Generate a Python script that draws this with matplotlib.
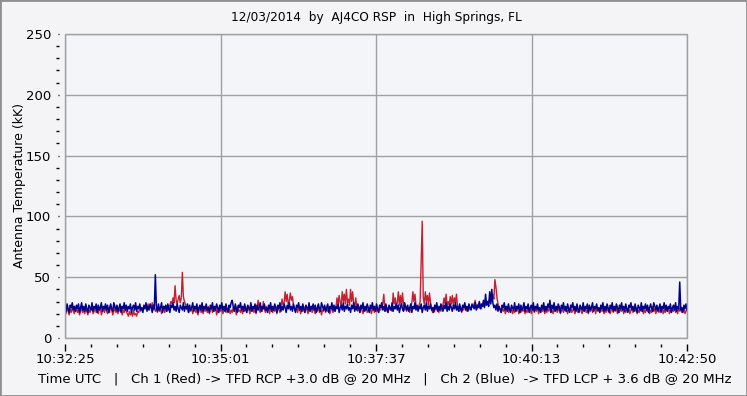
import numpy as np
import matplotlib
matplotlib.use("Agg")
import matplotlib.pyplot as plt
from matplotlib.patches import Rectangle
from matplotlib.ticker import MultipleLocator

# -------------------------------------------------------------------------
# DATA (one sample about every second)
# -------------------------------------------------------------------------
title = "12/03/2014  by  AJ4CO RSP  in  High Springs, FL"
y_label = "Antenna Temperature (kK)"
footer = ("Time UTC   |   Ch 1 (Red) -> TFD RCP +3.0 dB @ 20 MHz   |   "
          "Ch 2 (Blue)  -> TFD LCP + 3.6 dB @ 20 MHz")
x_tick_labels = ["10:32:25", "10:35:01", "10:37:37", "10:40:13", "10:42:50"]
duration_s = 625

ch1_red = [
    23, 20, 25, 22, 19, 24, 21, 26, 22, 20, 25, 23, 21, 24, 19, 22, 26, 21, 23, 20,
    25, 22, 19, 24, 21, 23, 26, 20, 22, 25, 21, 24, 20, 23, 26, 19, 22, 24, 21, 25,
    22, 20, 24, 21, 26, 23, 19, 22, 25, 21, 23, 20, 24, 22, 26, 19, 23, 21, 25, 22,
    20, 18, 22, 19, 21, 18, 23, 19, 20, 18, 22, 21, 24, 22, 25, 23, 26, 24, 27, 25,
    28, 24, 27, 25, 29, 23, 26, 22, 24, 21, 25, 22, 24, 20, 23, 26, 21, 24, 22, 25,
    23, 27, 30, 28, 33, 29, 43, 31, 28, 32, 35, 29, 33, 54, 34, 30, 28, 25, 23, 21,
    24, 22, 26, 20, 23, 25, 21, 24, 19, 22, 26, 21, 23, 20, 25, 22, 24, 21, 26, 20,
    23, 25, 21, 24, 22, 26, 19, 23, 21, 25, 22, 24, 20, 23, 26, 21, 24, 22, 25, 20,
    23, 21, 25, 22, 24, 19, 26, 22, 23, 21, 25, 20, 24, 22, 26, 21, 23, 25, 20, 24,
    22, 25, 21, 24, 20, 26, 31, 23, 21, 25, 22, 30, 24, 21, 26, 22, 24, 20, 25, 23,
    21, 24, 22, 26, 20, 25, 23, 21, 26, 32, 27, 29, 38, 30, 36, 28, 30, 37, 31, 34,
    27, 24, 22, 26, 21, 25, 23, 20, 24, 22, 26, 21, 25, 23, 20, 24, 22, 26, 21, 25,
    23, 20, 24, 22, 26, 21, 25, 19, 23, 22, 26, 21, 24, 22, 25, 20, 23, 26, 21, 24,
    22, 26, 33, 28, 35, 29, 27, 38, 30, 36, 28, 40, 29, 32, 27, 40, 30, 38, 28, 26,
    33, 25, 22, 26, 21, 24, 23, 20, 25, 22, 26, 21, 24, 22, 25, 20, 23, 26, 21, 24,
    22, 25, 21, 24, 23, 26, 28, 36, 24, 22, 25, 21, 26, 23, 24, 22, 37, 28, 33, 26,
    29, 38, 27, 35, 26, 37, 28, 23, 26, 22, 25, 24, 21, 26, 29, 38, 30, 36, 27, 25,
    24, 27, 30, 62, 96, 33, 28, 38, 30, 35, 27, 37, 29, 24, 21, 25, 22, 26, 23, 24,
    21, 25, 22, 26, 27, 33, 28, 36, 26, 30, 27, 34, 28, 35, 27, 33, 29, 36, 26, 24,
    22, 26, 21, 25, 23, 27, 24, 22, 26, 23, 25, 24, 27, 25, 28, 31, 26, 24, 28, 25,
    27, 24, 28, 26, 29, 27, 30, 28, 31, 29, 33, 30, 36, 32, 48, 42, 33, 28, 25, 23,
    21, 24, 22, 25, 20, 23, 26, 21, 24, 22, 25, 20, 23, 21, 24, 22, 26, 20, 23, 21,
    24, 22, 25, 20, 23, 21, 26, 22, 24, 20, 23, 25, 21, 24, 22, 26, 20, 23, 21, 24,
    22, 25, 20, 23, 21, 24, 22, 26, 21, 23, 20, 25, 22, 24, 21, 23, 26, 20, 22, 24,
    21, 25, 22, 23, 20, 24, 22, 26, 21, 23, 25, 20, 22, 24, 21, 23, 26, 22, 20, 24,
    22, 25, 21, 23, 20, 24, 22, 26, 21, 23, 25, 20, 24, 22, 23, 21, 25, 22, 24, 20,
    23, 21, 25, 22, 24, 20, 23, 26, 21, 24, 22, 25, 20, 23, 21, 24, 22, 26, 20, 23,
    21, 24, 22, 25, 20, 23, 26, 21, 24, 22, 25, 20, 23, 21, 24, 22, 26, 20, 23, 21,
    24, 22, 25, 20, 23, 21, 26, 22, 24, 20, 23, 25, 21, 24, 22, 26, 20, 23, 21, 24,
    22, 25, 20, 23, 21, 24, 22, 26, 21, 23, 20, 25, 22, 24, 21, 23, 26, 20, 22, 23,
]

ch2_blue = [
    26, 22, 28, 24, 21, 27, 25, 29, 23, 26, 22, 27, 24, 28, 21, 25, 29, 23, 26, 22,
    28, 24, 21, 27, 25, 23, 29, 22, 26, 24, 28, 21, 27, 23, 25, 29, 22, 26, 24, 28,
    23, 27, 21, 25, 28, 24, 22, 29, 26, 23, 27, 22, 25, 28, 21, 26, 24, 29, 23, 27,
    22, 26, 24, 28, 21, 25, 27, 23, 29, 22, 26, 24, 28, 23, 25, 21, 27, 24, 29, 22,
    26, 23, 28, 25, 21, 27, 24, 52, 26, 22, 28, 23, 25, 29, 21, 26, 24, 27, 22, 28,
    24, 21, 27, 25, 29, 23, 26, 22, 28, 24, 21, 27, 25, 23, 29, 22, 26, 24, 28, 21,
    27, 23, 25, 29, 22, 26, 24, 28, 21, 25, 27, 23, 29, 22, 26, 24, 28, 23, 25, 21,
    27, 24, 29, 22, 26, 23, 28, 25, 21, 27, 24, 29, 23, 26, 22, 28, 24, 21, 27, 25,
    29, 31, 26, 22, 28, 24, 21, 27, 25, 29, 23, 26, 22, 28, 24, 21, 27, 25, 23, 29,
    22, 26, 24, 28, 21, 27, 23, 25, 29, 22, 26, 24, 28, 23, 25, 21, 27, 24, 29, 22,
    26, 23, 28, 25, 21, 27, 24, 29, 22, 26, 23, 28, 25, 21, 27, 24, 29, 23, 26, 22,
    28, 24, 21, 27, 25, 29, 23, 26, 22, 28, 24, 21, 27, 25, 23, 29, 22, 26, 24, 28,
    23, 27, 21, 25, 28, 24, 22, 29, 26, 23, 27, 22, 25, 28, 21, 26, 24, 29, 23, 27,
    22, 26, 24, 28, 21, 25, 27, 23, 29, 22, 26, 24, 28, 23, 25, 21, 27, 24, 29, 22,
    26, 23, 28, 25, 21, 27, 24, 29, 22, 26, 23, 28, 25, 21, 27, 24, 29, 23, 26, 22,
    28, 24, 21, 27, 25, 29, 23, 26, 22, 28, 24, 21, 27, 25, 23, 29, 22, 26, 24, 28,
    23, 27, 21, 25, 28, 24, 22, 29, 26, 23, 27, 22, 25, 28, 21, 26, 24, 29, 23, 27,
    22, 26, 24, 28, 21, 25, 27, 23, 29, 22, 26, 24, 28, 23, 25, 21, 27, 24, 29, 22,
    26, 23, 28, 25, 22, 27, 24, 29, 22, 26, 23, 28, 25, 22, 27, 24, 29, 23, 26, 22,
    28, 24, 22, 27, 25, 29, 23, 26, 22, 28, 25, 23, 28, 26, 24, 29, 23, 27, 25, 30,
    24, 28, 26, 31, 25, 36, 27, 30, 26, 38, 28, 40, 29, 25, 27, 23, 28, 22, 26, 24,
    21, 27, 25, 29, 23, 26, 22, 28, 24, 21, 27, 25, 23, 29, 22, 26, 24, 28, 21, 27,
    23, 25, 29, 22, 26, 24, 28, 21, 25, 27, 23, 29, 22, 26, 24, 28, 23, 25, 21, 27,
    24, 29, 22, 26, 23, 28, 25, 31, 21, 27, 24, 29, 22, 26, 23, 28, 25, 21, 27, 24,
    29, 23, 26, 22, 28, 24, 21, 27, 25, 29, 23, 26, 22, 28, 24, 21, 27, 25, 23, 29,
    22, 26, 24, 28, 21, 27, 23, 25, 29, 22, 26, 24, 28, 23, 25, 21, 27, 24, 29, 22,
    26, 23, 28, 25, 21, 27, 24, 29, 22, 26, 23, 28, 25, 21, 27, 24, 29, 23, 26, 22,
    28, 24, 21, 27, 25, 29, 23, 26, 22, 28, 24, 21, 27, 25, 23, 29, 22, 26, 24, 28,
    23, 27, 21, 25, 28, 24, 22, 29, 26, 23, 27, 22, 25, 28, 21, 26, 24, 29, 23, 27,
    22, 26, 24, 28, 21, 25, 27, 23, 29, 22, 26, 24, 46, 23, 25, 21, 27, 24, 28, 23,
]

# sample times in seconds after 10:32:25
t = np.linspace(0, duration_s, len(ch1_red))

# -------------------------------------------------------------------------
# PLOT
# -------------------------------------------------------------------------
bg = "#f4f4f6"
grid_col = "#a0a0a0"
plt.rcParams["font.family"] = "DejaVu Sans"

fig = plt.figure(figsize=(7.47, 3.96), dpi=100, facecolor=bg)
ax = fig.add_axes([65 / 747, 1 - 338 / 396, 622 / 747, 304 / 396])
ax.set_facecolor("#f4f5f8")

ax.plot(t, ch1_red, color="#c42030", lw=1.0, zorder=3)
ax.plot(t, ch2_blue, color="#00008f", lw=1.1, zorder=4)

ax.set_xlim(0, duration_s)
ax.set_ylim(0, 250)
ax.set_xticks(np.linspace(0, duration_s, len(x_tick_labels)))
ax.set_xticklabels(x_tick_labels)
ax.xaxis.set_minor_locator(MultipleLocator(duration_s / 24))
ax.yaxis.set_major_locator(MultipleLocator(50))
ax.yaxis.set_minor_locator(MultipleLocator(10))

ax.grid(True, which="major", color=grid_col, lw=1, zorder=1)

# ticks sit a few pixels away from the frame
for side in ["left", "bottom"]:
    ax.spines[side].set_position(("outward", 4))
for side in ax.spines:
    ax.spines[side].set_color("none")
ax.add_patch(Rectangle((0, 0), 1, 1, transform=ax.transAxes, fill=False,
                       edgecolor=grid_col, lw=1, zorder=5, clip_on=False))

ax.tick_params(axis="x", which="major", length=5, width=1, pad=2,
               labelsize=9.5, colors="black")
ax.tick_params(axis="x", which="minor", length=2.5, width=1)
ax.tick_params(axis="y", which="major", length=1, width=1, pad=5,
               labelsize=9.5)
ax.tick_params(axis="y", which="minor", length=2.5, width=1)

ax.set_ylabel(y_label, fontsize=9, labelpad=0)

fig.text(376 / 747, 1 - 18 / 396, title, ha="center", va="center", fontsize=8.7)
fig.text(38 / 747, 1 - 379 / 396, footer, ha="left", va="center", fontsize=9.5)

# window border
fig.add_artist(Rectangle((0, 0), 1, 1, transform=fig.transFigure, fill=False,
                         edgecolor="#909090", lw=2))

fig.savefig("out.png", dpi=100, facecolor=bg)
